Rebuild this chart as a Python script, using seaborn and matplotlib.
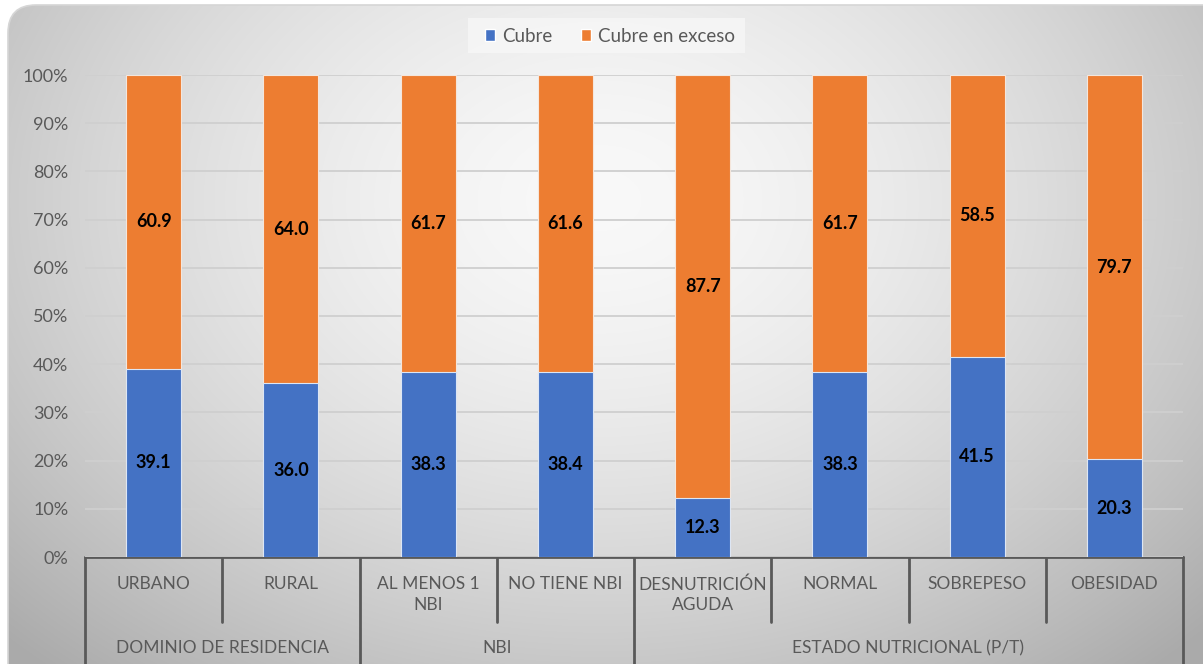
import numpy as np
import pandas as pd
import matplotlib
matplotlib.use("Agg")
import matplotlib.pyplot as plt
from matplotlib.patches import FancyBboxPatch, Patch
import seaborn as sns

categories = ["URBANO", "RURAL", "AL MENOS 1\nNBI", "NO TIENE NBI",
              "DESNUTRICIÓN\nAGUDA", "NORMAL", "SOBREPESO", "OBESIDAD"]
groups = ["DOMINIO DE RESIDENCIA", "NBI", "ESTADO NUTRICIONAL (P/T)"]
group_sizes = [2, 2, 4]
cubre = [39.1, 36.0, 38.3, 38.4, 12.3, 38.3, 41.5, 20.3]
exceso = [60.9, 64.0, 61.7, 61.6, 87.7, 61.7, 58.5, 79.7]
series_names = ["Cubre", "Cubre en exceso"]
yticks = [0, 10, 20, 30, 40, 50, 60, 70, 80, 90, 100]

BLUE = "#4472C4"
ORANGE = "#ED7D31"
TXT = "#595959"

sns.set_theme(style="white")
plt.rcParams["font.family"] = ["Lato", "DejaVu Sans"]

W, H = 1203, 664
fig = plt.figure(figsize=(W / 100, H / 100), dpi=100)
fig.patch.set_facecolor("white")

# background with gradient inside rounded rectangle
bg = fig.add_axes([0, 0, 1, 1], zorder=-10)
bg.set_xlim(0, W)
bg.set_ylim(H, 0)
bg.axis("off")
yy, xx = np.mgrid[0:H, 0:W]
r = np.sqrt(((xx - 600) / 700.0) ** 2 + ((yy - 200) / 520.0) ** 2)
val = 0.975 - 0.23 * np.clip(r, 0, 1.2) ** 1.6
img = np.dstack([val, val, val])
im = bg.imshow(img, extent=(0, W, H, 0), aspect="auto", interpolation="bilinear")
frame = FancyBboxPatch((8, 5), W + 40, H + 40,
                       boxstyle="round,pad=0,rounding_size=28",
                       transform=bg.transData, facecolor="none", edgecolor="#d6d6d6", lw=1.2)
bg.add_patch(frame)
im.set_clip_path(frame)

# main axes
ax = fig.add_axes([85 / W, 1 - 557 / H, (1183 - 85) / W, (557 - 75) / H])
ax.set_facecolor("none")

df = pd.DataFrame({"cat": categories, "cubre": cubre, "exceso": exceso})
df["total"] = df["cubre"] + df["exceso"]

sns.barplot(data=df, x="cat", y="total", color=ORANGE, saturation=1, width=0.4,
            edgecolor="#f4e6dc", linewidth=0.8, ax=ax, zorder=3)
sns.barplot(data=df, x="cat", y="cubre", color=BLUE, saturation=1, width=0.4,
            edgecolor="#dde6f4", linewidth=0.8, ax=ax, zorder=4)

ax.set_xlim(-0.5, len(categories) - 0.5)
ax.set_ylim(0, 100)
ax.set_yticks(yticks)
ax.set_yticklabels([f"{v}%" for v in yticks], color=TXT, fontsize=13)
ax.tick_params(axis="y", length=0, pad=12)
ax.set_xticks([])
ax.set_xlabel("")
ax.set_ylabel("")
for s in ax.spines.values():
    s.set_visible(False)
ax.yaxis.grid(True, color="#cfcfcf", lw=1.3, zorder=0)
ax.set_axisbelow(True)

# data labels
for i, (c, e) in enumerate(zip(cubre, exceso)):
    ax.text(i, c / 2, f"{c:.1f}", ha="center", va="center", fontsize=13,
            fontweight="bold", color="black", zorder=6)
    ax.text(i, c + e / 2, f"{e:.1f}", ha="center", va="center", fontsize=13,
            fontweight="bold", color="black", zorder=6)

# multi-level category axis (pixel coordinates via bg axes)
x0, x1 = 85, 1183
cw = (x1 - x0) / len(categories)
bg.plot([x0, x1], [557, 557], color=TXT, lw=2, zorder=5)
bounds = np.cumsum([0] + group_sizes)
group_edges = set(bounds.tolist())
for k in range(len(categories) + 1):
    xp = x0 + k * cw
    yend = 670 if k in group_edges else 622
    bg.plot([xp, xp], [557, yend], color=TXT, lw=2, zorder=5)
for i, lab in enumerate(categories):
    bg.text(x0 + (i + 0.5) * cw, 576, lab, ha="center", va="top", fontsize=12.5,
            color=TXT, linespacing=1.35)
for g, name in enumerate(groups):
    cx = x0 + (bounds[g] + bounds[g + 1]) / 2 * cw
    bg.text(cx, 648, name, ha="center", va="center", fontsize=12.5, color=TXT)

# legend
lg_box = FancyBboxPatch((468, 18), 277, 35, boxstyle="square,pad=0",
                        facecolor="#f7f7f7", edgecolor="none", alpha=0.8)
bg.add_patch(lg_box)
handles = [Patch(facecolor=BLUE), Patch(facecolor=ORANGE)]
fig.legend(handles, series_names, loc="center", bbox_to_anchor=(610 / W, 1 - 36 / H),
           ncol=2, frameon=False, fontsize=13.5, handlelength=0.55, handleheight=0.55,
           handletextpad=0.4, columnspacing=1.5, labelcolor=TXT)

fig.savefig("out.png", dpi=100)
